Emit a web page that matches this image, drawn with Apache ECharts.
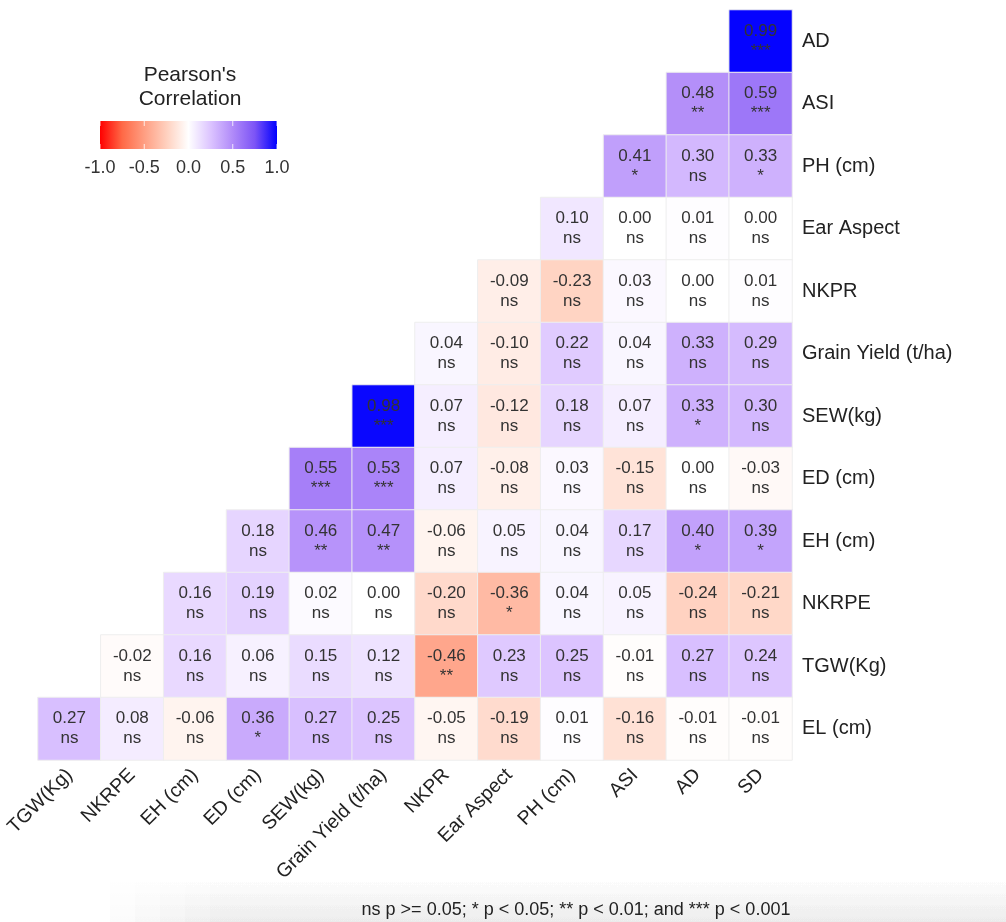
<!DOCTYPE html>
<html>
<head>
<meta charset="utf-8">
<script src="https://cdn.jsdelivr.net/npm/echarts@6/dist/echarts.min.js"></script>
<style>
html,body{margin:0;padding:0;background:#fff;}
#chart{width:1006px;height:922px;}
</style>
</head>
<body>
<div id="chart"></div>
<script>
// Categories
const xCats = ['TGW(Kg)','NKRPE','EH (cm)','ED (cm)','SEW(kg)','Grain Yield (t/ha)','NKPR','Ear Aspect','PH (cm)','ASI','AD','SD'];
const yCats = ['AD','ASI','PH (cm)','Ear Aspect','NKPR','Grain Yield (t/ha)','SEW(kg)','ED (cm)','EH (cm)','NKRPE','TGW(Kg)','EL (cm)']; // top to bottom

// Correlations per row (top to bottom), values run from the row's first filled column to SD
const corrAD    = [0.99];
const corrASI   = [0.48, 0.59];
const corrPH    = [0.41, 0.30, 0.33];
const corrEA    = [0.10, 0.00, 0.01, 0.00];
const corrNKPR  = [-0.09, -0.23, 0.03, 0.00, 0.01];
const corrGY    = [0.04, -0.10, 0.22, 0.04, 0.33, 0.29];
const corrSEW   = [0.98, 0.07, -0.12, 0.18, 0.07, 0.33, 0.30];
const corrED    = [0.55, 0.53, 0.07, -0.08, 0.03, -0.15, 0.00, -0.03];
const corrEH    = [0.18, 0.46, 0.47, -0.06, 0.05, 0.04, 0.17, 0.40, 0.39];
const corrNKRPE = [0.16, 0.19, 0.02, 0.00, -0.20, -0.36, 0.04, 0.05, -0.24, -0.21];
const corrTGW   = [-0.02, 0.16, 0.06, 0.15, 0.12, -0.46, 0.23, 0.25, -0.01, 0.27, 0.24];
const corrEL    = [0.27, 0.08, -0.06, 0.36, 0.27, 0.25, -0.05, -0.19, 0.01, -0.16, -0.01, -0.01];

// Significance labels per row
const sigAD    = ['***'];
const sigASI   = ['**','***'];
const sigPH    = ['*','ns','*'];
const sigEA    = ['ns','ns','ns','ns'];
const sigNKPR  = ['ns','ns','ns','ns','ns'];
const sigGY    = ['ns','ns','ns','ns','ns','ns'];
const sigSEW   = ['***','ns','ns','ns','ns','*','ns'];
const sigED    = ['***','***','ns','ns','ns','ns','ns','ns'];
const sigEH    = ['ns','**','**','ns','ns','ns','ns','*','*'];
const sigNKRPE = ['ns','ns','ns','ns','ns','*','ns','ns','ns','ns'];
const sigTGW   = ['ns','ns','ns','ns','ns','**','ns','ns','ns','ns','ns'];
const sigEL    = ['ns','ns','ns','*','ns','ns','ns','ns','ns','ns','ns','ns'];

const corrRows = [corrAD,corrASI,corrPH,corrEA,corrNKPR,corrGY,corrSEW,corrED,corrEH,corrNKRPE,corrTGW,corrEL];
const sigRows  = [sigAD,sigASI,sigPH,sigEA,sigNKPR,sigGY,sigSEW,sigED,sigEH,sigNKRPE,sigTGW,sigEL];

const legendTicks = [-1.0, -0.5, 0.0, 0.5, 1.0];
const legendTitle = ["Pearson's", 'Correlation'];
const footnote = 'ns p >= 0.05; * p < 0.05; ** p < 0.01; and *** p < 0.001';

// colour scale (Lab-like interpolation red - white - blue)
const scaleColors = ['#ff0000','#ff6946','#ff9e82','#ffd0be','#ffffff','#dcc4ff','#b08af9','#7c54f6','#0000ff'];

const data = [];
corrRows.forEach((row, r) => {
  const start = xCats.length - row.length;
  row.forEach((v, i) => {
    data.push({value: [start + i, r, v], sig: sigRows[r][i]});
  });
});

const chart = echarts.init(document.getElementById('chart'));
const FONT = '"Liberation Sans", Arial, Helvetica, sans-serif';

const barX = 100, barY = 121, barW = 177, barH = 28;
const graphics = [];
// soft screenshot shadow along the bottom
[110, 135, 160, 185, 210].forEach(x0 => {
  graphics.push({type:'rect', shape:{x:x0, y:876, width:1006 - x0, height:46}, silent:true,
    style:{fill: new echarts.graphic.LinearGradient(0,0,0,1,[{offset:0,color:'rgba(0,0,0,0)'},{offset:1,color:'rgba(0,0,0,0.016)'}])}});
});
graphics.push(
  {type:'text', x:190, y:75, style:{text:legendTitle[0], font:'21px '+FONT, fill:'#222', align:'center', verticalAlign:'middle'}},
  {type:'text', x:190, y:99, style:{text:legendTitle[1], font:'21px '+FONT, fill:'#222', align:'center', verticalAlign:'middle'}},
  {type:'rect', shape:{x:barX, y:barY, width:barW, height:barH}, style:{fill: new echarts.graphic.LinearGradient(0,0,1,0, scaleColors.map((c,i)=>({offset:i/(scaleColors.length-1), color:c})))}},
  {type:'text', x:576, y:910, style:{text:footnote, font:'18px '+FONT, fill:'#222', align:'center', verticalAlign:'middle'}}
);
legendTicks.forEach(t => {
  const x = barX + (t + 1) / 2 * barW;
  graphics.push({type:'text', x:x, y:168, style:{text:t.toFixed(1), font:'18px '+FONT, fill:'#333', align:'center', verticalAlign:'middle'}});
  graphics.push({type:'line', shape:{x1:x,y1:barY,x2:x,y2:barY+5}, style:{stroke:'rgba(255,255,255,0.8)', lineWidth:1}});
  graphics.push({type:'line', shape:{x1:x,y1:barY+barH-5,x2:x,y2:barY+barH}, style:{stroke:'rgba(255,255,255,0.8)', lineWidth:1}});
});

chart.setOption({
  backgroundColor:'#fff',
  animation:false,
  grid:{left:38, right:214, top:10, bottom:162, containLabel:false},
  xAxis:{type:'category', data:xCats, axisLine:{show:false}, axisTick:{show:false}, splitLine:{show:false},
    axisLabel:{rotate:45, fontSize:19.5, color:'#222', fontFamily:FONT, margin:12, interval:0}},
  yAxis:{type:'category', data:yCats, inverse:true, position:'right', axisLine:{show:false}, axisTick:{show:false}, splitLine:{show:false},
    axisLabel:{fontSize:20, color:'#222', fontFamily:FONT, margin:10, interval:0}},
  visualMap:{show:false, min:-1, max:1, dimension:2, inRange:{color:scaleColors}, calculable:false},
  graphic: graphics,
  series:[{
    type:'heatmap', data:data,
    itemStyle:{borderColor:'#eeeeee', borderWidth:1},
    label:{show:true, fontFamily:FONT, color:'#333',
      formatter: p => '{v|' + p.value[2].toFixed(2) + '}\n{s|' + p.data.sig + '}',
      rich:{v:{fontSize:17, color:'#333', fontFamily:FONT, lineHeight:20}, s:{fontSize:17, color:'#333', fontFamily:FONT, lineHeight:20}}},
    emphasis:{disabled:true}
  }]
});
</script>
</body>
</html>
